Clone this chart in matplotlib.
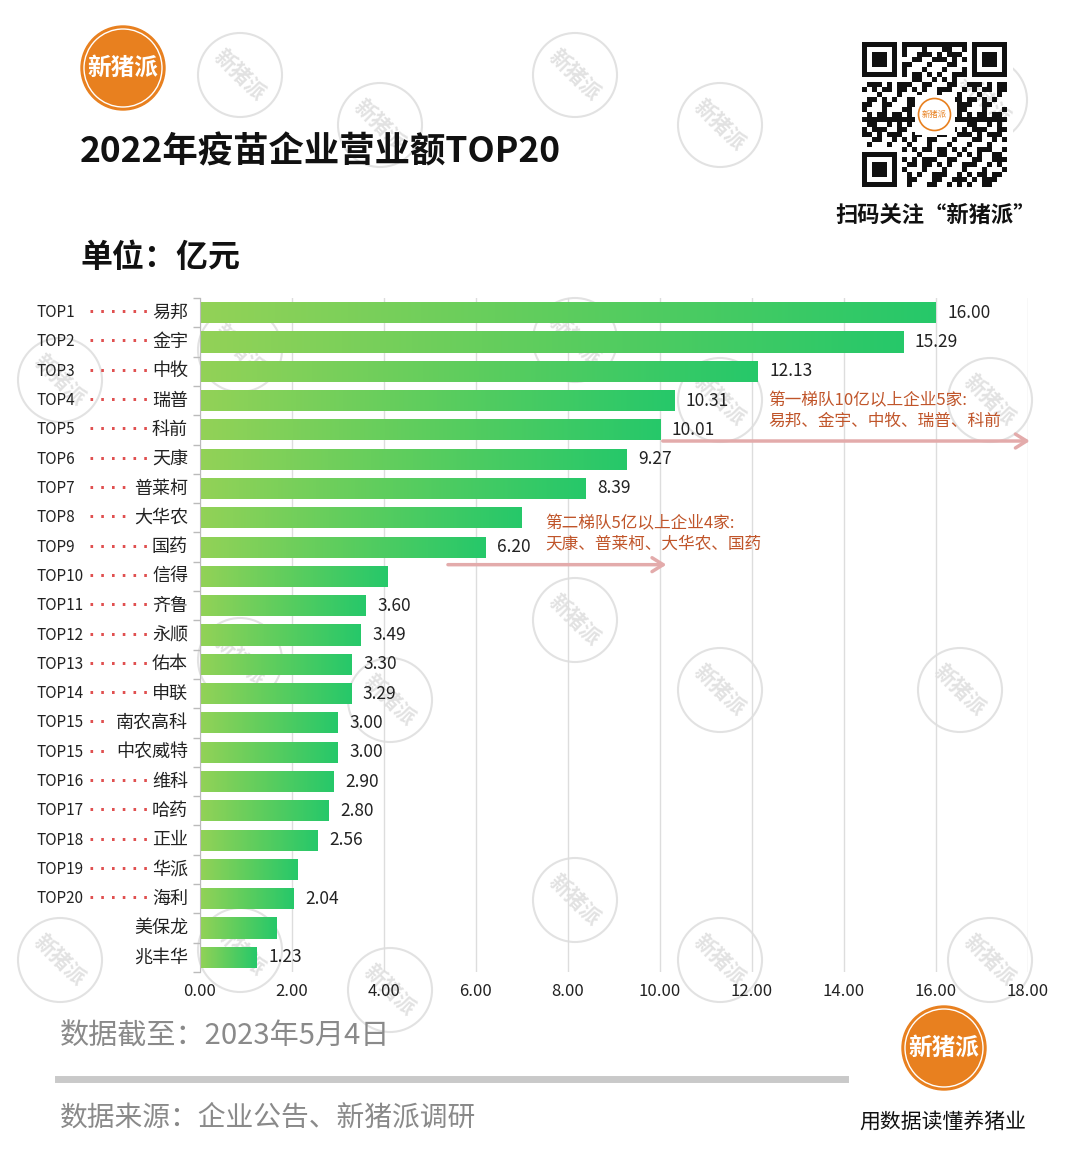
import numpy as np
import matplotlib
matplotlib.use('Agg')
import matplotlib.pyplot as plt
from matplotlib.patches import Circle, Rectangle, FancyArrowPatch
from matplotlib.colors import LinearSegmentedColormap
from matplotlib.transforms import blended_transform_factory

plt.rcParams['font.family'] = ['Noto Sans CJK SC', 'DejaVu Sans']

# data
ranks = ['TOP1', 'TOP2', 'TOP3', 'TOP4', 'TOP5', 'TOP6', 'TOP7', 'TOP8', 'TOP9', 'TOP10',
         'TOP11', 'TOP12', 'TOP13', 'TOP14', 'TOP15', 'TOP15', 'TOP16', 'TOP17', 'TOP18',
         'TOP19', 'TOP20', '', '']
companies = ['易邦', '金宇', '中牧', '瑞普', '科前', '天康', '普莱柯', '大华农', '国药', '信得',
             '齐鲁', '永顺', '佑本', '申联', '南农高科', '中农威特', '维科', '哈药', '正业',
             '华派', '海利', '美保龙', '兆丰华']
revenue = [16.00, 15.29, 12.13, 10.31, 10.01, 9.27, 8.39, 7.00, 6.20, 4.07,
           3.60, 3.49, 3.30, 3.29, 3.00, 3.00, 2.90, 2.80, 2.56,
           2.11, 2.04, 1.67, 1.23]
# the source only labels some of the bars
value_labels = ['16.00', '15.29', '12.13', '10.31', '10.01', '9.27', '8.39', None, '6.20', None,
                '3.60', '3.49', '3.30', '3.29', '3.00', '3.00', '2.90', '2.80', '2.56',
                None, '2.04', None, '1.23']
xticks = [0, 2, 4, 6, 8, 10, 12, 14, 16, 18]

title = '2022年疫苗企业营业额TOP20'
unit = '单位：亿元'
note1 = '第一梯队10亿以上企业5家:\n易邦、金宇、中牧、瑞普、科前'
note2 = '第二梯队5亿以上企业4家:\n天康、普莱柯、大华农、国药'
date_txt = '数据截至：2023年5月4日'
source_txt = '数据来源：企业公告、新猪派调研'

W, H = 1080, 1171
fig = plt.figure(figsize=(W / 100, H / 100), dpi=100)
fig.patch.set_facecolor('white')

def fx(px):
    return px / W

def fy(py):
    return 1 - py / H

ORANGE = '#e8801f'
BROWN = '#c0552a'
PINK = '#e3abab'

# background watermarks
wm_ax = fig.add_axes([0, 0, 1, 1], zorder=-5)
wm_ax.set_xlim(0, W)
wm_ax.set_ylim(H, 0)
wm_ax.axis('off')
wm_pos = [(240, 75), (380, 125), (575, 75), (720, 125), (985, 100),
          (60, 380), (240, 350), (575, 340), (720, 400), (990, 400),
          (240, 660), (390, 700), (575, 620), (720, 690), (960, 690),
          (60, 960), (240, 950), (390, 990), (575, 900), (720, 960), (990, 960)]
for (xx, yy) in wm_pos:
    wm_ax.add_patch(Circle((xx, yy), 42, fill=False, ec='#e2e2e2', lw=1.5))
    wm_ax.text(xx, yy, '新猪派', rotation=-45, ha='center', va='center',
               fontsize=15, color='#e2e2e2', fontweight='bold')

# logos
def logo(cx, cy, r, fs):
    wm_ax.add_patch(Circle((cx, cy), r, color=ORANGE, zorder=3))
    wm_ax.add_patch(Circle((cx, cy), r - 3, fill=False, ec='white', lw=1, zorder=4))
    wm_ax.text(cx, cy, '新猪派', ha='center', va='center', color='white',
               fontsize=fs, fontweight='bold', zorder=5)

logo(123, 68, 42, 17)
logo(944, 1048, 42, 17)

# QR-code look-alike (decoration)
qx0, qy0, qs = 862, 42, 145
n = 29
cell = qs / n
wm_ax.add_patch(Rectangle((qx0 - 6, qy0 - 6), qs + 12, qs + 12, color='white', lw=0, zorder=2))
for i in range(n):
    for j in range(n):
        if ((i * 7 + j * 3 + (i * j) % 5) % 3 == 0) or ((i ^ j) % 4 == 1):
            wm_ax.add_patch(Rectangle((qx0 + j * cell, qy0 + i * cell), cell, cell,
                                      color='#111111', lw=0, zorder=3))
for (fi, fj) in [(0, 0), (0, n - 7), (n - 7, 0)]:
    x0, y0 = qx0 + fj * cell, qy0 + fi * cell
    wm_ax.add_patch(Rectangle((x0 - cell, y0 - cell), 9 * cell, 9 * cell, color='white', lw=0, zorder=4))
    wm_ax.add_patch(Rectangle((x0, y0), 7 * cell, 7 * cell, color='#111111', lw=0, zorder=5))
    wm_ax.add_patch(Rectangle((x0 + cell, y0 + cell), 5 * cell, 5 * cell, color='white', lw=0, zorder=6))
    wm_ax.add_patch(Rectangle((x0 + 2 * cell, y0 + 2 * cell), 3 * cell, 3 * cell, color='#111111', lw=0, zorder=7))
wm_ax.add_patch(Rectangle((qx0 + qs / 2 - 20, qy0 + qs / 2 - 20), 40, 40, color='white', lw=0, zorder=8))
wm_ax.add_patch(Circle((qx0 + qs / 2, qy0 + qs / 2), 16, fill=False, ec=ORANGE, lw=1.2, zorder=9))
wm_ax.text(qx0 + qs / 2, qy0 + qs / 2, '新猪派', ha='center', va='center', fontsize=6,
           color=ORANGE, zorder=10)

# header texts
fig.text(fx(80), fy(152), title, fontsize=25.5, fontweight='bold', color='#111111', va='center')
fig.text(fx(80), fy(258), unit, fontsize=23, fontweight='bold', color='#111111', va='center')
fig.text(fx(936), fy(215), '扫码关注“新猪派”', fontsize=16, fontweight='bold',
         color='#111111', ha='center', va='center')

# main chart
ax = fig.add_axes([fx(200), fy(972), fx(828), (972 - 298) / H])
ax.patch.set_alpha(0)
y = np.arange(len(companies))
bars = ax.barh(y, revenue, height=0.72, color='none', zorder=2)
cmap = LinearSegmentedColormap.from_list('g', ['#93d257', '#5ccd5e', '#26c86a'])
grad = np.linspace(0, 1, 256).reshape(1, -1)
for b, v in zip(bars, revenue):
    im = ax.imshow(grad, cmap=cmap, aspect='auto', zorder=2,
                   extent=[0, v, b.get_y() + b.get_height(), b.get_y()])
    im.set_clip_path(b)

ax.set_xlim(0, 18)
ax.set_ylim(len(companies) - 0.5, -0.5)
ax.set_xticks(xticks)
ax.set_xticklabels(['%.2f' % t for t in xticks], fontsize=12, color='#222222')
ax.tick_params(axis='x', length=0, pad=8)
ax.grid(axis='x', color='#dddddd', lw=1, zorder=0)
ax.set_yticks([])
ax.set_yticks(np.arange(len(companies) + 1) - 0.5, minor=True)
ax.tick_params(axis='y', which='minor', length=5, color='#bbbbbb', width=1)
for s in ['top', 'right', 'bottom']:
    ax.spines[s].set_visible(False)
ax.spines['left'].set_color('#bbbbbb')

for yi, v, lab in zip(y, revenue, value_labels):
    if lab:
        ax.text(v + 0.25, yi, lab, va='center', ha='left', fontsize=12.5, color='#222222')

tr = blended_transform_factory(ax.transAxes, ax.transData)
for yi, rk, name in zip(y, ranks, companies):
    ax.text(-0.197, yi, rk, transform=tr, ha='left', va='center', fontsize=11, color='#222222')
    ax.text(-0.0145, yi, name, transform=tr, ha='right', va='center', fontsize=13, color='#222222')
    if rk:
        ndots = 6 - 2 * (len(name) - 2)
        ax.text(-0.134, yi, ' '.join(['·'] * ndots), transform=tr, ha='left', va='center',
                fontsize=10.5, color='#e05050', family='DejaVu Sans', fontweight='bold')

# tier annotations
ax.text(12.35, 3.35, note1, fontsize=12, color=BROWN, va='center', ha='left', linespacing=1.25)
ax.add_patch(FancyArrowPatch((10.0, 4.38), (18.1, 4.38), arrowstyle='->,head_length=8,head_width=5',
                             color=PINK, lw=2.5, clip_on=False, zorder=3))
ax.text(7.5, 7.55, note2, fontsize=12, color=BROWN, va='center', ha='left', linespacing=1.25)
ax.add_patch(FancyArrowPatch((5.33, 8.6), (10.2, 8.6), arrowstyle='->,head_length=8,head_width=5',
                             color=PINK, lw=2.5, clip_on=False, zorder=3))

# footer
fig.text(fx(60), fy(1037), date_txt, fontsize=21, color='#8a8a8a', va='center')
fig.add_artist(plt.Line2D([fx(58), fx(845)], [fy(1079), fy(1079)], color='#c9c9c9', lw=5))
fig.text(fx(60), fy(1118), source_txt, fontsize=20, color='#8a8a8a', va='center')
fig.text(fx(943), fy(1122), '用数据读懂养猪业', fontsize=15, color='#111111', ha='center', va='center')

fig.savefig('out.png', dpi=100, facecolor='white')
